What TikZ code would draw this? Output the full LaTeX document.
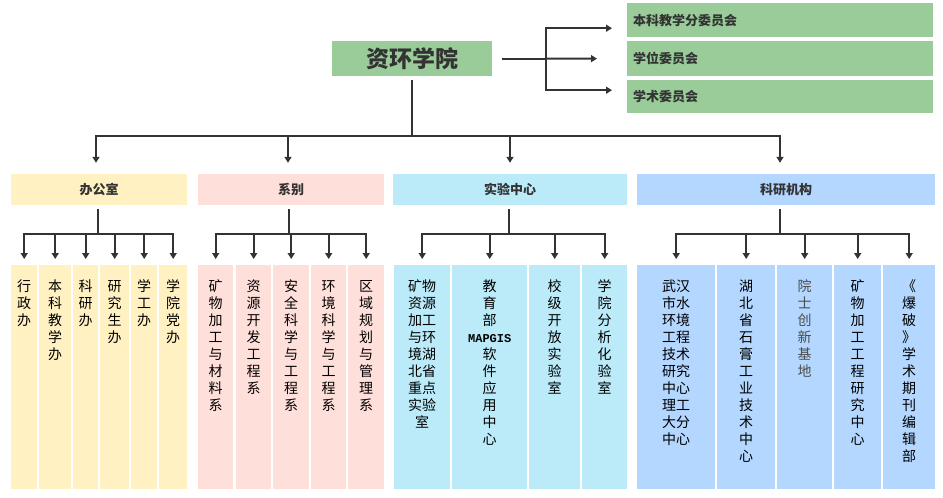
\documentclass[tikz,border=0pt]{standalone}
\usepackage{fontspec}
\usepackage{xcolor}
\usetikzlibrary{arrows.meta}
\setmainfont{Noto Sans CJK SC}
\newfontfamily\mapfont{Liberation Mono}
\definecolor{yuangreen}{HTML}{99CC99}
\definecolor{banyellow}{HTML}{FFF1C2}
\definecolor{xipink}{HTML}{FFDFD9}
\definecolor{shicyan}{HTML}{BBEBF9}
\definecolor{keblue}{HTML}{B3D7FF}
\definecolor{linegray}{HTML}{333333}

\begin{document}
\begin{tikzpicture}[x=1pt, y=-1pt,
    line/.style={draw=linegray, line width=2pt},
    arrow/.style={line, -{Triangle[length=6pt,width=7pt]}},
    catbox/.style={inner sep=0pt, minimum height=31pt, text=linegray,
        font=\bfseries\fontsize{13}{15}\selectfont},
    weiyuan/.style={fill=yuangreen, anchor=north west, inner xsep=6pt, inner ysep=0pt,
        text width=294pt, align=left, text=linegray,
        font=\bfseries\fontsize{13}{15}\selectfont},
    leaf/.style={fill=#1, anchor=north west, inner sep=0pt, align=center,
        text height=26pt, text depth=198pt, font=\fontsize{14}{17}\selectfont},
]
    \useasboundingbox (0,0) rectangle (943,498);

    % Draw the school box
    \node[fill=yuangreen, minimum width=160pt, minimum height=35pt, text=linegray,
        font=\bfseries\fontsize{23}{25}\selectfont] (yuan) at (412,58.5) {资环学院};

    % Draw the committees
    \node[weiyuan, minimum height=34pt] (wy1) at (627,3) {本科教学分委员会};
    \node[weiyuan, minimum height=35pt] (wy2) at (627,41) {学位委员会};
    \node[weiyuan, minimum height=33pt] (wy3) at (627,80) {学术委员会};

    % Draw the branch to the committees
    \coordinate (fen) at (546,58.5);
    \draw[line, shorten <=10pt] (yuan.east) -- (fen);
    \draw[arrow, shorten >=15pt] (fen) |- ([yshift=-8pt]wy1.west);
    \draw[arrow, shorten >=15pt] (fen) -- ([xshift=-15pt]wy2.west);
    \draw[arrow, shorten >=15pt] (fen) |- ([yshift=6.5pt]wy3.west);

    % Draw the four groups
    \node[catbox, fill=banyellow, minimum width=176pt] (bangong) at (99,189.5) {办公室};
    \node[catbox, fill=xipink, minimum width=186pt] (xibie) at (291,189.5) {系别};
    \node[catbox, fill=shicyan, minimum width=234pt] (shiyan) at (510,189.5) {实验中心};
    \node[catbox, fill=keblue, minimum width=298pt] (keyan) at (786,189.5) {科研机构};

    % Draw the branch to the groups
    \coordinate (zhong) at (412,136);
    \draw[line, shorten <=4pt] (yuan.south) -- (zhong);
    \draw[arrow, shorten >=11pt] (zhong) -| ([xshift=-3pt]bangong.north);
    \draw[arrow, shorten >=11pt] (zhong) -| ([xshift=-3pt]xibie.north);
    \draw[arrow, shorten >=11pt] (zhong) -| (shiyan.north);
    \draw[arrow, shorten >=11pt] (zhong) -| ([xshift=-6pt]keyan.north);

    % Draw the offices
    \node[leaf=banyellow, text width=26pt] (b1) at (11,265) {行\\政\\办};
    \node[leaf=banyellow, text width=32pt] (b2) at (39,265) {本\\科\\教\\学\\办};
    \node[leaf=banyellow, text width=25pt] (b3) at (73,265) {科\\研\\办};
    \node[leaf=banyellow, text width=29pt] (b4) at (100,265) {研\\究\\生\\办};
    \node[leaf=banyellow, text width=26pt] (b5) at (131,265) {学\\工\\办};
    \node[leaf=banyellow, text width=28pt] (b6) at (159,265) {学\\院\\党\\办};

    % Draw the departments
    \node[leaf=xipink, text width=35pt] (x1) at (198,265) {矿\\物\\加\\工\\与\\材\\料\\系};
    \node[leaf=xipink, text width=35pt] (x2) at (236,265) {资\\源\\开\\发\\工\\程\\系};
    \node[leaf=xipink, text width=36pt] (x3) at (273,265) {安\\全\\科\\学\\与\\工\\程\\系};
    \node[leaf=xipink, text width=35pt] (x4) at (311,265) {环\\境\\科\\学\\与\\工\\程\\系};
    \node[leaf=xipink, text width=36pt] (x5) at (348,265) {区\\域\\规\\划\\与\\管\\理\\系};

    % Draw the labs
    \node[leaf=shicyan, text width=56pt] (s1) at (394,265)
        {矿物\\资源\\加工\\与环\\境湖\\北省\\重点\\实验\\室};
    \node[leaf=shicyan, text width=75pt] (s2) at (452,265)
        {教\\育\\部\\{\mapfont\bfseries\fontsize{12}{17}\selectfont MAPGIS}\\软\\件\\应\\用\\中\\心};
    \node[leaf=shicyan, text width=51pt] (s3) at (529,265) {校\\级\\开\\放\\实\\验\\室};
    \node[leaf=shicyan, text width=45pt] (s4) at (582,265) {学\\院\\分\\析\\化\\验\\室};

    % Draw the research units
    \node[leaf=keblue, text width=78pt] (k1) at (637,265)
        {武汉\\市水\\环境\\工程\\技术\\研究\\中心\\理工\\大分\\中心};
    \node[leaf=keblue, text width=58pt] (k2) at (717,265) {湖\\北\\省\\石\\膏\\工\\业\\技\\术\\中\\心};
    \node[leaf=keblue, text width=55pt, text=black!70] (k3) at (777,265) {院\\士\\创\\新\\基\\地};
    \node[leaf=keblue, text width=47pt] (k4) at (834,265) {矿\\物\\加\\工\\工\\程\\研\\究\\中\\心};
    \node[leaf=keblue, text width=52pt] (k5) at (883,265) {《\\爆\\破\\》\\学\\术\\期\\刊\\编\\辑\\部};

    % Draw the arrows down to each column
    \coordinate (b0) at (98,234);
    \coordinate (x0) at (289,234);
    \coordinate (s0) at (509,234);
    \coordinate (k0) at (780,234);
    \draw[line, shorten <=4pt] (bangong.south -| b0) -- (b0);
    \draw[line, shorten <=4pt] (xibie.south -| x0) -- (x0);
    \draw[line, shorten <=4pt] (shiyan.south -| s0) -- (s0);
    \draw[line, shorten <=4pt] (keyan.south -| k0) -- (k0);
    \foreach \n in {b1,b2,b3,b4,b5,b6}
        \draw[arrow, shorten >=6pt] (b0) -| (\n.north);
    \foreach \n in {x1,x2,x3,x4,x5}
        \draw[arrow, shorten >=6pt] (x0) -| (\n.north);
    \foreach \n in {s1,s2,s3,s4}
        \draw[arrow, shorten >=6pt] (s0) -| (\n.north);
    \foreach \n in {k1,k2,k3,k4,k5}
        \draw[arrow, shorten >=6pt] (k0) -| (\n.north);
\end{tikzpicture}
\end{document}
